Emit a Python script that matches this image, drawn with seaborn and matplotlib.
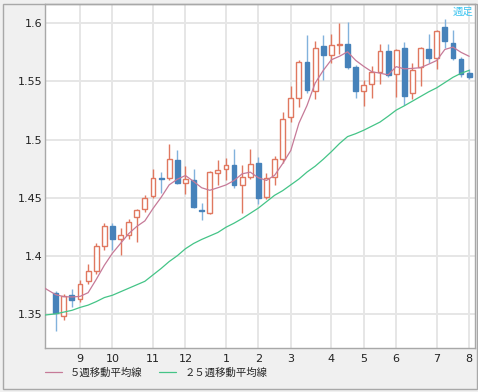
import numpy as np
import pandas as pd
import matplotlib
matplotlib.use("Agg")
import matplotlib.pyplot as plt
import seaborn as sns
from matplotlib.patches import Rectangle

# ---------------- data (weekly OHLC, 52 weeks) ----------------
opens = [1.368, 1.348, 1.366, 1.363, 1.378, 1.387, 1.408, 1.426, 1.414, 1.418,
         1.433, 1.440, 1.451, 1.467, 1.467, 1.482, 1.463, 1.465, 1.4395, 1.437,
         1.471, 1.4745, 1.478, 1.461, 1.4675, 1.480, 1.4505, 1.468, 1.483, 1.519,
         1.536, 1.567, 1.542, 1.5805, 1.5727, 1.5815, 1.582, 1.5627, 1.5417, 1.548,
         1.558, 1.576, 1.556, 1.579, 1.540, 1.562, 1.5776, 1.570, 1.5966, 1.5833,
         1.569, 1.557]
highs = [1.370, 1.367, 1.371, 1.379, 1.393, 1.411, 1.428, 1.428, 1.424, 1.432,
         1.440, 1.452, 1.475, 1.472, 1.496, 1.491, 1.477, 1.475, 1.445, 1.473,
         1.482, 1.484, 1.492, 1.478, 1.492, 1.485, 1.471, 1.486, 1.524, 1.546,
         1.568, 1.590, 1.585, 1.590, 1.591, 1.600, 1.6014, 1.564, 1.551, 1.563,
         1.582, 1.582, 1.578, 1.584, 1.566, 1.580, 1.591, 1.594, 1.6035, 1.594,
         1.571, 1.561]
lows = [1.335, 1.345, 1.356, 1.360, 1.376, 1.384, 1.405, 1.405, 1.401, 1.414,
        1.412, 1.438, 1.450, 1.454, 1.465, 1.462, 1.453, 1.441, 1.431, 1.436,
        1.461, 1.465, 1.458, 1.4365, 1.466, 1.4445, 1.4485, 1.461, 1.480, 1.515,
        1.528, 1.540, 1.535, 1.551, 1.5656, 1.574, 1.561, 1.536, 1.529, 1.536,
        1.548, 1.554, 1.537, 1.530, 1.535, 1.546, 1.566, 1.561, 1.5785, 1.568,
        1.5535, 1.552]
closes = [1.351, 1.365, 1.362, 1.376, 1.387, 1.408, 1.426, 1.414, 1.418, 1.429,
          1.439, 1.450, 1.467, 1.466, 1.483, 1.463, 1.466, 1.442, 1.4385, 1.472,
          1.474, 1.478, 1.461, 1.4675, 1.479, 1.450, 1.4665, 1.483, 1.518, 1.5355,
          1.567, 1.543, 1.579, 1.5727, 1.5813, 1.582, 1.5627, 1.5417, 1.547, 1.558,
          1.576, 1.5555, 1.577, 1.5375, 1.560, 1.579, 1.5704, 1.593, 1.585, 1.570,
          1.5565, 1.5535]

# moving averages, starting two weeks before the first visible candle
ma5 = [1.375, 1.3706, 1.3665, 1.3648, 1.3645, 1.365, 1.3682, 1.3796, 1.3918, 1.4022,
       1.4106, 1.419, 1.4252, 1.430, 1.4406, 1.4502, 1.461, 1.4658, 1.469, 1.464,
       1.4585, 1.4563, 1.4585, 1.4609, 1.4647, 1.4705, 1.4719, 1.4671, 1.4648, 1.4692,
       1.4793, 1.4906, 1.514, 1.5293, 1.5485, 1.5594, 1.5686, 1.5716, 1.5755, 1.5681,
       1.5629, 1.5583, 1.5571, 1.5556, 1.5627, 1.5608, 1.5612, 1.5618, 1.5648, 1.568,
       1.5775, 1.5795, 1.575, 1.5716]
ma25 = [1.3485, 1.3492, 1.350, 1.3515, 1.353, 1.3555, 1.3575, 1.3605, 1.364, 1.366,
        1.369, 1.372, 1.375, 1.378, 1.3835, 1.389, 1.395, 1.400, 1.406, 1.4105,
        1.414, 1.417, 1.420, 1.4245, 1.428, 1.432, 1.4365, 1.441, 1.4465, 1.452,
        1.456, 1.461, 1.466, 1.472, 1.477, 1.483, 1.4895, 1.4965, 1.5025, 1.505,
        1.508, 1.5115, 1.515, 1.520, 1.5253, 1.529, 1.533, 1.537, 1.541, 1.5445,
        1.549, 1.5535, 1.557, 1.5595]

month_labels = ["9", "10", "11", "12", "1", "2", "3", "4", "5", "6", "7", "8"]
month_first_week = [3, 7, 12, 16, 21, 25, 29, 34, 38, 42, 47, 51]
y_ticks = [1.35, 1.4, 1.45, 1.5, 1.55, 1.6]
y_tick_labels = ["1.35", "1.4", "1.45", "1.5", "1.55", "1.6"]
ma5_label = "５週移動平均線"
ma25_label = "２５週移動平均線"
period_label = "週足"

# ---------------- styling ----------------
sns.set_style("white")
plt.rcParams['font.family'] = ['DejaVu Sans', 'Noto Sans CJK JP']

RED = "#e07860"
BLUE = "#4682ba"
BLUE_WICK = "#82b2dc"
PINK = "#c67a98"
GREEN = "#44c487"
GRID = "#e6e6e6"
FRAME = "#a8a8a8"
BG = "#f0f0f0"

W, H = 478, 392
fig = plt.figure(figsize=(W / 100, H / 100), dpi=100, facecolor=BG)
ax = fig.add_axes([45 / W, 1 - 348 / H, (475 - 45) / W, (348 - 4) / H])
ax.set_facecolor("white")

o = np.array(opens); h = np.array(highs); l = np.array(lows); c = np.array(closes)
weeks = np.arange(len(o))
up = c >= o
body_bottom = np.minimum(o, c)
body_h = np.maximum(np.abs(c - o), 0.0004)

# wicks
ax.vlines(weeks[up], l[up], h[up], color=RED, lw=1.0, zorder=2)
ax.vlines(weeks[~up], l[~up], h[~up], color=BLUE_WICK, lw=1.0, zorder=2)
# bodies
ax.bar(weeks[up], body_h[up], bottom=body_bottom[up], width=0.6,
       facecolor="white", edgecolor=RED, linewidth=1.0, zorder=3)
ax.bar(weeks[~up], body_h[~up], bottom=body_bottom[~up], width=0.6,
       facecolor=BLUE, edgecolor=BLUE, linewidth=1.0, zorder=3)

# moving averages
ma_df = pd.DataFrame({"week": np.arange(-2, len(o)), "ma5": ma5, "ma25": ma25})
sns.lineplot(data=ma_df, x="week", y="ma5", ax=ax, color=PINK, lw=0.9,
             label=ma5_label, zorder=4)
sns.lineplot(data=ma_df, x="week", y="ma25", ax=ax, color=GREEN, lw=0.9,
             label=ma25_label, zorder=4)

ax.set_xlim(-1.32, 51.72)
ax.set_ylim(1.3206, 1.6166)
ax.set_xticks(month_first_week)
ax.set_xticklabels(month_labels)
ax.set_yticks(y_ticks)
ax.set_yticklabels(y_tick_labels)
ax.set_xlabel("")
ax.set_ylabel("")
ax.tick_params(length=0, labelsize=8, colors="#222222")
ax.tick_params(axis="x", pad=4)
ax.tick_params(axis="y", pad=2)
ax.grid(True, color=GRID, linewidth=1.4, zorder=0)
ax.set_axisbelow(True)
for s in ax.spines.values():
    s.set_color(FRAME)
    s.set_linewidth(1.0)

ax.text(0.997, 0.992, period_label, transform=ax.transAxes, ha="right", va="top",
        color="#3dc4f0", fontsize=7.5, family=["Noto Sans CJK JP"], zorder=6)

handles, labels = ax.get_legend_handles_labels()
ax.get_legend().remove()
fig.legend(handles, labels, loc="center left",
           bbox_to_anchor=(45 / W, 1 - 373 / H), ncol=2, frameon=False,
           prop={"family": ["Noto Sans CJK JP"], "size": 7.5},
           handlelength=1.6, handletextpad=0.8, columnspacing=1.6,
           borderpad=0, borderaxespad=0)

fig.patches.append(Rectangle((3 / W, 1 - 389 / H), (477 - 3) / W, (389 - 4) / H,
                             transform=fig.transFigure, fill=False,
                             edgecolor=FRAME, linewidth=1.0, zorder=0))

fig.savefig("out.png", dpi=100, facecolor=BG)
